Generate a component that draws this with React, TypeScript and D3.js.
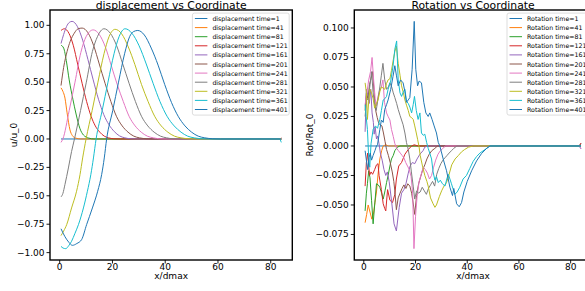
import React from "react";
import * as d3 from "d3";

type Pt = [number, number];

const times = [1, 41, 81, 121, 161, 201, 241, 281, 321, 361, 401];
const colors = ["#1f77b4", "#ff7f0e", "#2ca02c", "#d62728", "#9467bd", "#8c564b", "#e377c2", "#7f7f7f", "#bcbd22", "#17becf", "#1f77b4"];

const xTicks = [0, 20, 40, 60, 80];
const dispTicks = [-1, -0.75, -0.5, -0.25, 0, 0.25, 0.5, 0.75, 1];
const rotTicks = [-0.075, -0.05, -0.025, 0, 0.025, 0.05, 0.075, 0.1];

// displacement, [x/dmax, u/u_0]
const disp1: Pt[] = [[0.5, 0], [84, 0]];
const disp41: Pt[] = [[0.5, 0.45], [1.2, 0.42], [2, 0.36], [2.8, 0.23], [3.9, 0.08], [4.8, 0.03], [6, 0.008], [8, 0], [84, 0]];
const disp81: Pt[] = [[0.5, 0.825], [1.5, 0.8], [2.5, 0.69], [3.6, 0.52], [5, 0.35], [6.2, 0.22], [7.7, 0.09], [9, 0.035], [11, 0.008], [13, 0], [84, 0]];
const disp121: Pt[] = [[0.5, 0.955], [1.8, 0.97], [3.5, 0.93], [5.2, 0.82], [6.8, 0.66], [8.5, 0.49], [10.2, 0.33], [11.9, 0.2], [13.5, 0.115], [15.2, 0.06], [16.9, 0.025], [18.5, 0.01], [20.5, 0.002], [23, 0], [83.3, 0], [84, 0.01]];
const disp161: Pt[] = [[0.5, 0.84], [1.5, 0.92], [2.6, 0.99], [3.6, 1.025], [4.7, 1.035], [6.7, 0.99], [8.7, 0.87], [10.7, 0.7], [12.7, 0.52], [14.7, 0.35], [16.7, 0.215], [18.7, 0.125], [20.7, 0.065], [22.7, 0.027], [24.7, 0.01], [27, 0.002], [30, 0], [84, 0]];
const disp201: Pt[] = [[0.5, 0.47], [1.5, 0.63], [2.8, 0.77], [4, 0.86], [5.5, 0.93], [7, 0.97], [8.5, 0.976], [10.7, 0.935], [12.9, 0.82], [15, 0.66], [17.2, 0.49], [19.4, 0.33], [21.5, 0.2], [23.7, 0.115], [25.9, 0.06], [28.1, 0.025], [30.2, 0.01], [33, 0.002], [36, 0], [84, 0]];
const disp241: Pt[] = [[0.5, -0.03], [1.2, 0], [3.6, 0.25], [5.8, 0.5], [8, 0.76], [10, 0.9], [12.7, 0.96], [15, 0.92], [17.3, 0.81], [19.5, 0.65], [21.8, 0.48], [24.1, 0.33], [26.3, 0.2], [28.6, 0.115], [30.9, 0.06], [33.2, 0.025], [35.5, 0.01], [38, 0.002], [41, 0], [84, 0]];
const disp281: Pt[] = [[0.5, -0.51], [1.2, -0.48], [2, -0.4], [3.3, -0.255], [4.5, -0.11], [5.6, 0], [7.9, 0.25], [10.1, 0.5], [12.4, 0.77], [14.3, 0.9], [16.8, 0.97], [19.2, 0.93], [21.6, 0.82], [23.9, 0.66], [26.3, 0.49], [28.7, 0.33], [31, 0.2], [33.4, 0.115], [35.8, 0.06], [38.2, 0.025], [40.5, 0.01], [43, 0.002], [46, 0], [84, 0]];
const disp321: Pt[] = [[0.5, -0.85], [1.5, -0.81], [2.65, -0.754], [4.5, -0.607], [6.4, -0.46], [7.7, -0.314], [8.7, -0.167], [10, 0], [12.3, 0.25], [14.5, 0.5], [16.8, 0.75], [18.7, 0.9], [21, 0.965], [23.5, 0.925], [26, 0.81], [28.5, 0.655], [31, 0.48], [33.5, 0.33], [36, 0.2], [38.5, 0.115], [41, 0.06], [43.5, 0.025], [46, 0.01], [49, 0.002], [52, 0], [84, 0]];
const disp361: Pt[] = [[0.5, -0.945], [1.3, -0.96], [2.3, -0.965], [3.4, -0.94], [4.5, -0.9], [5.8, -0.83], [7.1, -0.754], [9, -0.607], [10.5, -0.46], [11.8, -0.314], [12.8, -0.167], [13.8, 0], [16.1, 0.25], [18.3, 0.5], [20.6, 0.75], [22.5, 0.9], [24.8, 0.97], [27.4, 0.93], [30.1, 0.82], [32.8, 0.66], [35.4, 0.49], [38, 0.33], [40.7, 0.2], [43.4, 0.115], [46, 0.06], [48.5, 0.025], [51, 0.01], [54, 0.002], [57, 0], [83.3, 0], [84, -0.03]];
const disp401: Pt[] = [[0.5, -0.79], [2, -0.86], [3.5, -0.91], [4.8, -0.936], [6.5, -0.92], [8.3, -0.886], [10.2, -0.754], [12.4, -0.607], [14.4, -0.46], [15.9, -0.314], [16.9, -0.167], [17.8, 0], [20.1, 0.25], [22.3, 0.5], [24.6, 0.75], [26.5, 0.9], [28, 0.945], [29.6, 0.955], [32.1, 0.915], [34.7, 0.8], [37.3, 0.65], [39.8, 0.48], [42.4, 0.32], [44.9, 0.2], [47.5, 0.115], [50, 0.06], [52.5, 0.025], [55, 0.01], [58, 0.002], [61, 0], [84, 0]];

// rotation, [x/dmax, Rot/Rot_0]
const rot1: Pt[] = [[0.5, 0], [84, 0]];
const rot41: Pt[] = [[0.5, -0.065], [1.1, -0.058], [1.7, -0.05], [2.4, -0.056], [3.1, -0.062], [3.7, -0.058], [4.3, -0.048], [4.9, -0.039], [5.5, -0.024], [6.2, -0.011], [6.9, -0.004], [7.5, 0], [8.5, 0.001], [9.5, 0], [84, 0]];
const rot81: Pt[] = [[0.5, -0.055], [1, -0.04], [1.4, -0.032], [1.9, -0.021], [2.4, -0.027], [3, -0.046], [3.6, -0.066], [4.2, -0.05], [4.9, -0.032], [5.6, -0.033], [6.2, -0.035], [6.9, -0.04], [7.5, -0.045], [8.2, -0.038], [8.8, -0.031], [9.4, -0.025], [10.1, -0.017], [10.7, -0.011], [11.4, -0.008], [12, -0.004], [13, -0.001], [14, 0], [84, 0]];
const rot121: Pt[] = [[0.5, -0.034], [1, -0.014], [1.5, -0.006], [2.2, -0.025], [2.8, -0.022], [3.4, -0.024], [4.2, -0.02], [4.9, -0.016], [5.5, -0.015], [5.9, -0.025], [6.8, -0.037], [7.5, -0.049], [8.1, -0.053], [8.5, -0.055], [9.2, -0.037], [10.1, -0.046], [11.1, -0.048], [12, -0.041], [12.6, -0.028], [13.5, -0.017], [14.6, -0.014], [15.9, -0.007], [17.2, -0.003], [18.5, 0], [19.5, 0.001], [21, 0], [83.3, 0], [84, 0.0025]];
const rot161: Pt[] = [[0.5, 0.012], [1, 0.048], [1.6, 0.043], [2.1, 0.036], [2.7, 0.048], [3.2, 0.028], [3.7, 0.02], [4, 0.01], [4.4, 0.016], [4.9, 0.006], [5.3, 0.0085], [5.9, 0.002], [6.4, -0.006], [7.1, -0.012], [7.8, -0.02], [8.5, -0.025], [9.1, -0.022], [9.8, -0.03], [10.7, -0.046], [11.7, -0.066], [12.6, -0.072], [13.7, -0.052], [14.6, -0.04], [15.5, -0.037], [16.3, -0.032], [17.2, -0.023], [17.9, -0.017], [18.8, -0.014], [19.7, -0.015], [20.6, -0.011], [21.7, -0.007], [22.9, -0.004], [23.6, -0.001], [24.5, 0], [83.3, 0], [84, -0.0025]];
const rot201: Pt[] = [[0.5, 0.03], [1, 0.045], [1.6, 0.04], [2.2, 0.052], [2.8, 0.057], [3.4, 0.063], [4, 0.045], [4.6, 0.03], [5.2, 0.024], [5.8, 0.019], [6.4, 0.018], [7, 0.017], [7.6, 0.011], [8.2, 0.004], [8.8, -0.003], [9.5, -0.008], [10.2, -0.014], [11, -0.022], [11.6, -0.03], [12, -0.038], [12.6, -0.054], [13.3, -0.044], [14, -0.04], [14.8, -0.036], [15.5, -0.033], [16.3, -0.036], [17, -0.032], [17.8, -0.034], [18.5, -0.04], [19.2, -0.05], [19.7, -0.058], [20.4, -0.042], [21.2, -0.032], [22, -0.026], [22.8, -0.02], [23.6, -0.016], [24.4, -0.011], [25.3, -0.007], [26.3, -0.004], [27.5, -0.002], [28.5, 0], [83.3, 0], [84, 0.002]];
const rot241: Pt[] = [[0.5, 0.035], [1.2, 0.045], [1.9, 0.056], [2.6, 0.063], [3.2, 0.075], [3.8, 0.056], [4.4, 0.04], [4.9, 0.034], [5.5, 0.042], [6.1, 0.047], [6.8, 0.05], [7.4, 0.056], [8, 0.037], [8.8, 0.028], [9.4, 0.025], [10.1, 0.022], [10.7, 0.014], [11.4, 0.008], [12, 0.002], [12.7, -0.002], [13.4, -0.004], [14.1, -0.006], [14.8, -0.008], [15.5, -0.01], [16.2, -0.014], [16.9, -0.017], [17.6, -0.02], [18.3, -0.026], [18.9, -0.04], [19.4, -0.087], [20, -0.06], [20.6, -0.043], [21.4, -0.03], [22.2, -0.024], [23, -0.018], [23.8, -0.02], [24.6, -0.023], [25.4, -0.028], [26.2, -0.025], [27, -0.018], [27.8, -0.012], [28.7, -0.007], [29.6, -0.004], [30.6, -0.002], [31.6, 0], [83.3, 0], [84, -0.002]];
const rot281: Pt[] = [[0.5, 0.025], [1.1, 0.04], [1.7, 0.039], [2.3, 0.05], [3, 0.063], [3.6, 0.045], [4.2, 0.035], [4.8, 0.03], [5.5, 0.04], [6.2, 0.05], [6.8, 0.06], [7.4, 0.07], [8.1, 0.056], [8.8, 0.048], [9.5, 0.05], [10.1, 0.0535], [10.8, 0.05], [11.4, 0.045], [12, 0.041], [12.7, 0.036], [13.3, 0.031], [14, 0.026], [14.6, 0.022], [15.2, 0.018], [15.9, 0.011], [16.5, 0.003], [17.2, -0.003], [17.8, -0.011], [18.4, -0.022], [19.1, -0.034], [19.7, -0.045], [20.4, -0.038], [21.1, -0.04], [21.8, -0.039], [22.6, -0.035], [23.4, -0.038], [24.2, -0.041], [25, -0.036], [25.8, -0.033], [26.6, -0.03], [27.4, -0.034], [28.2, -0.024], [29, -0.019], [29.8, -0.015], [30.6, -0.012], [31.4, -0.01], [32.2, -0.008], [33, -0.006], [33.9, -0.004], [34.8, -0.002], [36, 0], [84, 0]];
const rot321: Pt[] = [[0.5, 0.0535], [1, 0.0455], [1.4, 0.0225], [1.9, 0.038], [2.4, 0.048], [3, 0.045], [3.6, 0.04], [4.2, 0.032], [4.9, 0.036], [5.5, 0.039], [6.2, 0.046], [6.8, 0.05], [7.5, 0.049], [8.1, 0.048], [8.8, 0.053], [9.4, 0.056], [10.1, 0.057], [10.7, 0.064], [11.4, 0.073], [12, 0.08], [12.6, 0.0845], [13.3, 0.07], [14, 0.06], [14.6, 0.051], [15.3, 0.045], [15.9, 0.039], [16.6, 0.034], [17.2, 0.03], [17.8, 0.025], [18.5, 0.024], [19.1, 0.0225], [19.7, 0.017], [20.3, 0.011], [20.8, 0.0057], [21.4, -0.001], [21.8, -0.008], [22.7, -0.017], [23.6, -0.025], [24.4, -0.03], [24.9, -0.034], [25.8, -0.044], [26.8, -0.049], [27.5, -0.052], [28.1, -0.05], [29.2, -0.043], [30.1, -0.038], [31, -0.034], [32, -0.031], [33, -0.024], [34, -0.016], [35.3, -0.011], [36.6, -0.008], [37.8, -0.005], [39, -0.003], [40.5, -0.001], [42.3, 0], [84, 0]];
const rot361: Pt[] = [[0.5, 0.035], [0.9, 0.025], [1.4, 0.014], [1.9, -0.01], [2.3, -0.018], [2.8, 0.002], [3.6, 0.014], [4.5, 0.017], [5.3, 0.015], [6.2, 0.0225], [6.8, 0.03], [7.5, 0.039], [8.1, 0.04], [8.8, 0.042], [9.4, 0.048], [10.4, 0.055], [11.3, 0.0675], [12, 0.082], [12.7, 0.089], [13.3, 0.056], [14, 0.045], [14.6, 0.042], [15.3, 0.046], [15.9, 0.048], [16.5, 0.038], [17.2, 0.036], [17.8, 0.033], [18.5, 0.028], [19.1, 0.035], [19.6, 0.042], [20.3, 0.03], [21, 0.0225], [21.7, 0.028], [22.3, 0.011], [23, 0.009], [23.6, 0.01], [24.3, 0.003], [24.9, -0.002], [25.5, -0.006], [26.2, -0.011], [26.8, -0.022], [27.5, -0.029], [28.1, -0.026], [28.8, -0.031], [29.6, -0.029], [30.4, -0.032], [31.4, -0.034], [32.1, -0.028], [32.7, -0.024], [33.3, -0.028], [33.9, -0.032], [34.6, -0.037], [35.2, -0.041], [36.1, -0.039], [37.1, -0.035], [38.4, -0.028], [39.7, -0.025], [41, -0.019], [42.3, -0.013], [43.6, -0.009], [44.9, -0.006], [46.9, -0.003], [48.8, 0], [84, 0]];
const rot401: Pt[] = [[0.5, -0.004], [1, -0.012], [1.5, -0.02], [2, -0.01], [2.5, -0.006], [3, -0.012], [3.6, -0.008], [4.3, -0.004], [4.9, 0], [5.3, 0.001], [6.2, 0.014], [6.8, 0.022], [7.5, 0.02], [8.1, 0.031], [8.8, 0.035], [9.4, 0.039], [10.4, 0.048], [11.3, 0.059], [12, 0.068], [12.6, 0.06], [13.3, 0.051], [14.2, 0.056], [15.2, 0.0535], [15.9, 0.046], [16.5, 0.037], [17.2, 0.039], [17.8, 0.041], [18.7, 0.065], [19.5, 0.1056], [20.1, 0.065], [20.8, 0.051], [21.4, 0.055], [22.3, 0.0535], [23.2, 0.037], [24, 0.028], [24.9, 0.025], [25.5, 0.028], [26.4, 0.0225], [27.2, 0.017], [28.1, 0.011], [28.8, 0.003], [29.4, 0], [30, -0.005], [30.7, -0.011], [32, -0.021], [33.3, -0.035], [34.3, -0.042], [34.8, -0.036], [35.9, -0.049], [36.9, -0.0515], [37.8, -0.048], [38.7, -0.039], [40, -0.03], [41.7, -0.021], [43.6, -0.0127], [45.5, -0.0065], [47.5, -0.002], [48.8, 0], [84, 0]];

const dispSeries = [disp1, disp41, disp81, disp121, disp161, disp201, disp241, disp281, disp321, disp361, disp401];
const rotSeries = [rot1, rot41, rot81, rot121, rot161, rot201, rot241, rot281, rot321, rot361, rot401];

const FONT = "DejaVu Sans";

type Box = { l: number; r: number; t: number; b: number };

function Panel({ id, box, series, yTicks, yFmt, title, yLabel, yLabelX, prefix, textW, curve }: {
  id: string; box: Box; series: Pt[][]; yTicks: number[]; yFmt: (v: number) => string;
  title: string; yLabel: string; yLabelX: number; prefix: string; textW: number; curve: d3.CurveFactory;
}) {
  const all = series.flat();
  const [xmin, xmax] = d3.extent(all, (d) => d[0]) as [number, number];
  const [ymin, ymax] = d3.extent(all, (d) => d[1]) as [number, number];
  const xp = (xmax - xmin) * 0.05;
  const yp = (ymax - ymin) * 0.05;
  const x = d3.scaleLinear().domain([xmin - xp, xmax + xp]).range([box.l, box.r]);
  const y = d3.scaleLinear().domain([ymin - yp, ymax + yp]).range([box.b, box.t]);
  const line = d3.line<Pt>().x((d) => x(d[0])).y((d) => y(d[1])).curve(curve);
  const cx = (box.l + box.r) / 2;
  const cy = (box.t + box.b) / 2;

  // legend
  const fs = 6.25;
  const pad = 2.5;
  const handle = 12.5;
  const gap = 5;
  const lw = pad + handle + gap + textW + pad;
  const lx = box.r - 3.1 - lw;
  const ly = box.t + 3.1;
  const step = 9.1;

  return (
    <g>
      <defs>
        <clipPath id={id}>
          <rect x={box.l} y={box.t} width={box.r - box.l} height={box.b - box.t} />
        </clipPath>
      </defs>
      <g clipPath={`url(#${id})`}>
        {series.map((s, i) => (
          <path key={i} d={line(s) || ""} fill="none" stroke={colors[i]} strokeWidth={1} />
        ))}
      </g>
      <rect x={box.l} y={box.t} width={box.r - box.l} height={box.b - box.t} fill="none" stroke="#000" strokeWidth={1.4} />
      {yTicks.map((t) => (
        <g key={t}>
          <line x1={box.l - 3.5} x2={box.l} y1={y(t)} y2={y(t)} stroke="#000" strokeWidth={0.9} />
          <text x={box.l - 5.5} y={y(t)} textAnchor="end" dominantBaseline="central" fontSize={9} fontFamily={FONT}>{yFmt(t)}</text>
        </g>
      ))}
      {xTicks.map((t) => (
        <g key={t}>
          <line x1={x(t)} x2={x(t)} y1={box.b} y2={box.b + 3.5} stroke="#000" strokeWidth={0.9} />
          <text x={x(t)} y={270} textAnchor="middle" fontSize={9} fontFamily={FONT}>{t}</text>
        </g>
      ))}
      <text x={cx} y={9} textAnchor="middle" fontSize={10.8} fontFamily={FONT}>{title}</text>
      <text x={cx} y={279} textAnchor="middle" fontSize={9} fontFamily={FONT}>x/dmax</text>
      <text transform={`translate(${yLabelX},${cy}) rotate(-90)`} textAnchor="middle" dominantBaseline="central" fontSize={9} fontFamily={FONT}>{yLabel}</text>
      <rect x={lx} y={ly} width={lw} height={102} rx={2} fill="#fff" fillOpacity={0.8} stroke="#d4d4d4" strokeWidth={0.8} />
      {times.map((t, i) => (
        <g key={t}>
          <line x1={lx + pad} x2={lx + pad + handle} y1={ly + 5.4 + i * step} y2={ly + 5.4 + i * step} stroke={colors[i]} strokeWidth={1} />
          <text x={lx + pad + handle + gap} y={ly + 5.4 + i * step} dominantBaseline="central" fontSize={fs} fontFamily={FONT}>{`${prefix} time=${t}`}</text>
        </g>
      ))}
    </g>
  );
}

export default function App() {
  const f2 = d3.format(".2f");
  const f3 = d3.format(".3f");
  return (
    <svg width={585} height={291} style={{ position: "absolute", left: 0, top: 0, background: "#fff" }}>
      <Panel id="clipL" box={{ l: 50, r: 292.3, t: 10, b: 260 }} series={dispSeries} yTicks={dispTicks} yFmt={f2}
        title="displacement vs Coordinate" yLabel="u/u_0" yLabelX={13.5} prefix="displacement" textW={74.3} curve={d3.curveMonotoneX} />
      <Panel id="clipR" box={{ l: 354.3, r: 591.8, t: 10, b: 260 }} series={rotSeries} yTicks={rotTicks} yFmt={f3}
        title="Rotation vs Coordinate" yLabel="Rot/Rot_0" yLabelX={310} prefix="Rotation" textW={59.2} curve={d3.curveLinear} />
    </svg>
  );
}
